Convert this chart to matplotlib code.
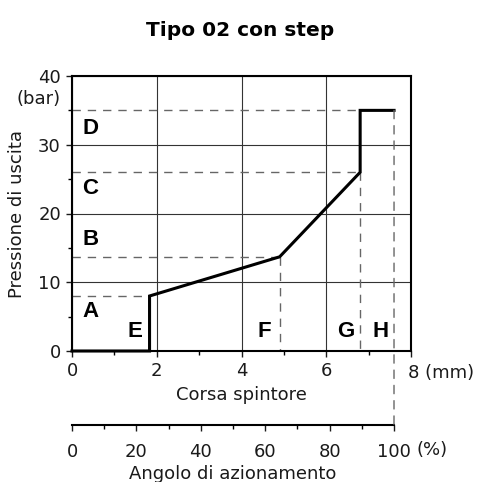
import matplotlib.pyplot as plt
from matplotlib.patches import ConnectionPatch

# curve points: stroke (mm) vs output pressure (bar)
stroke_mm = [0, 1.83, 1.83, 4.9, 6.8, 6.8, 7.6]
pressure_bar = [0, 0, 8, 13.7, 26, 35, 35]

# reference levels (A..D) and stroke points (E..H)
level_names = ['A', 'B', 'C', 'D']
level_pos = [5.7, 16.2, 23.6, 32.4]
stroke_names = ['E', 'F', 'G', 'H']
stroke_label_x = [1.49, 4.55, 6.46, 7.29]

x_ticks = [0, 2, 4, 6, 8]
x_ticklabels = ['0', '2', '4', '6', '']
y_ticks = [0, 10, 20, 30, 40]
pct_ticks = [0, 20, 40, 60, 80, 100]

FS = 13
TXT = '#1a1a1a'

W, H = 479, 482
fig = plt.figure(figsize=(W / 100, H / 100), dpi=100)
ax = fig.add_axes([72 / W, 1 - 351 / H, (411 - 72) / W, (351 - 76) / H])

ax.set_xlim(0, 8)
ax.set_ylim(0, 40)
ax.set_xticks(x_ticks)
ax.set_xticklabels(x_ticklabels)
ax.set_xticks([1, 3, 5, 7], minor=True)
ax.set_yticks(y_ticks)
ax.set_yticks([5, 15, 25, 35], minor=True)
ax.tick_params(labelsize=FS, length=4, width=1, colors=TXT, pad=4)
ax.tick_params(which='minor', length=3, width=1)
for s in ax.spines.values():
    s.set_linewidth(1.5)
ax.grid(True, which='major', color='#333', lw=0.8)

dash = dict(color='#666', lw=1, dashes=(6, 5))
# horizontal dashed guides
ax.plot([0, 1.83], [8, 8], **dash)
ax.plot([0, 4.9], [13.7, 13.7], **dash)
ax.plot([0, 6.8], [26, 26], **dash)
ax.plot([0, 6.8], [35, 35], **dash)
# vertical dashed guides
ax.plot([4.9, 4.9], [13.7, 0], **dash)
ax.plot([6.8, 6.8], [26, 0], **dash)

ax.plot(stroke_mm, pressure_bar, color='black', lw=2.2, solid_joinstyle='miter',
        zorder=5, clip_on=False)

for name, yv in zip(level_names, level_pos):
    ax.text(0.25, yv, name, fontsize=16, fontweight='bold', family='Liberation Sans',
            va='center', ha='left')
for name, xv in zip(stroke_names, stroke_label_x):
    ax.text(xv, 2.9, name, fontsize=16, fontweight='bold', family='Liberation Sans',
            va='center', ha='center')

ax.set_xlabel('Corsa spintore', fontsize=FS, labelpad=4, color=TXT)
ax.set_ylabel('Pressione di uscita', fontsize=FS, color=TXT)
ax.yaxis.set_label_coords(-0.135, 0.5)

# unit labels placed next to the tick labels
fig.text(408 / W, 1 - 373 / H, '8 (mm)', fontsize=FS, color=TXT, ha='left', va='center')
fig.text(39 / W, 1 - 99 / H, '(bar)', fontsize=FS, color=TXT, ha='center', va='center')
fig.text(416 / W, 1 - 450 / H, '(%)', fontsize=FS, color=TXT, ha='left', va='center')

# secondary axis: actuation angle (%)
ax2 = fig.add_axes([72 / W, 1 - 425 / H, (394 - 72) / W, 0.001])
ax2.set_xlim(0, 100)
ax2.set_yticks([])
for k in ['top', 'left', 'right']:
    ax2.spines[k].set_visible(False)
ax2.spines['bottom'].set_linewidth(1.5)
ax2.set_xticks(pct_ticks)
ax2.set_xticks([10, 30, 50, 70, 90], minor=True)
ax2.tick_params(labelsize=FS, length=4, width=1, colors=TXT, pad=9)
ax2.tick_params(which='minor', length=3, width=1)
ax2.set_xlabel('Angolo di azionamento', fontsize=FS, labelpad=3, color=TXT)

con = ConnectionPatch(xyA=(7.6, 35), coordsA=ax.transData,
                      xyB=(100, 0), coordsB=ax2.transData,
                      color='#666', lw=1, linestyle=(0, (6, 5)))
fig.add_artist(con)

fig.text(240 / W, 1 - 30 / H, 'Tipo 02 con step', fontsize=14.5, fontweight='bold',
         ha='center', va='center')

fig.savefig('out.png', dpi=100)
